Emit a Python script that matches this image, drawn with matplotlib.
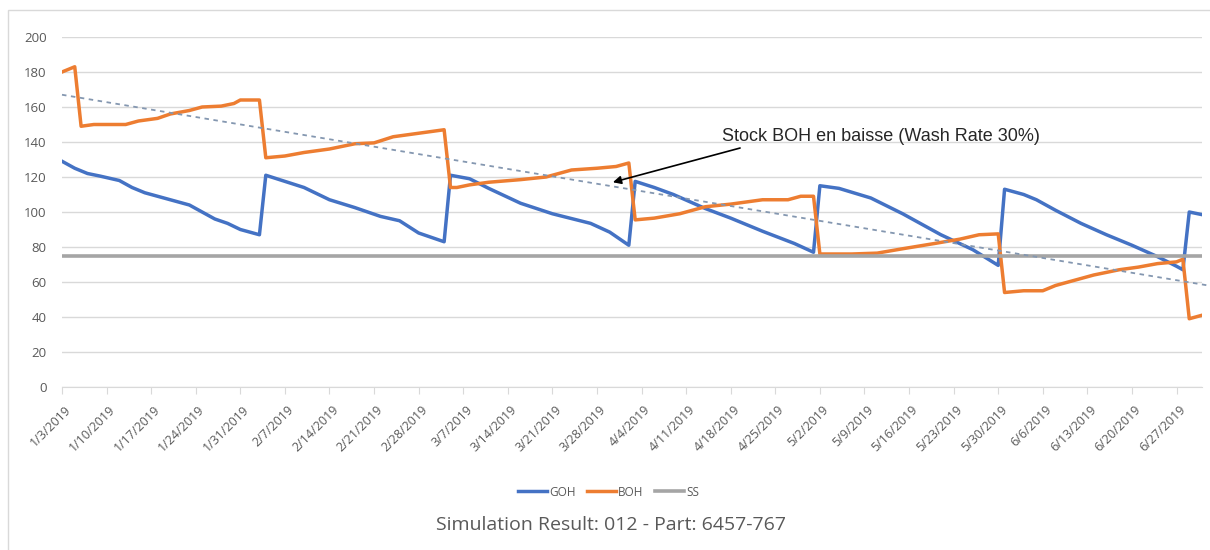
import matplotlib
matplotlib.use('Agg')
import matplotlib.pyplot as plt
from matplotlib.patches import Rectangle
from matplotlib.transforms import ScaledTranslation
import pandas as pd

# days counted from 1/3/2019
start_date = '2019-01-03'
last_day = 179

goh_day = [0, 2, 4, 6, 9, 11, 13, 15, 17, 20, 22, 24, 26, 28, 30, 31,
           32, 35, 38, 42, 46, 50, 53, 56, 58, 60,
           61, 64, 67, 72, 77, 83, 86, 89,
           90, 93, 96, 101, 105, 110, 115, 118,
           119, 122, 127, 132, 138, 143, 147,
           148, 151, 153, 156, 160, 164, 168, 172, 175, 176,
           177, 179]
goh_val = [129, 125, 122, 120.5, 118, 114, 111, 109, 107, 104, 100, 96, 93.5, 90, 88, 87,
           121, 117.5, 114, 107, 102.5, 97.5, 95, 88, 85.5, 83,
           121, 119, 113.5, 105, 99, 93.5, 88.5, 81,
           117.5, 114, 110, 102, 96.5, 89, 82, 77,
           115, 113.5, 108, 99, 87, 78.5, 69.5,
           113, 110, 107, 101, 93.5, 87, 81, 74.5, 69, 67,
           100, 98.5]

boh_day = [0, 2, 3, 5, 10, 12, 15, 17, 20, 22, 25, 27, 28, 31,
           32, 35, 38, 42, 46, 49, 52, 55, 58, 60,
           61, 62, 64, 67, 72, 76, 80, 84, 87, 89,
           90, 93, 97, 101, 105, 110, 114, 116, 118,
           119, 124, 128, 132, 137, 141, 144, 147,
           148, 151, 154, 156, 159, 162, 166, 169, 172, 175, 176,
           177, 179]
boh_val = [180, 183, 149, 150, 150, 152, 153.5, 156, 158, 160, 160.5, 162, 164, 164,
           131, 132, 134, 136, 139, 139.5, 143, 144.5, 146, 147,
           114, 114, 115.5, 117, 118.5, 120, 124, 125, 126, 128,
           95.5, 96.5, 99, 103, 104.5, 107, 107, 109, 109,
           76, 76, 76.5, 79, 82, 84.5, 87, 87.5,
           54, 55, 55, 58, 61, 64, 67, 68.5, 70.5, 71.5, 73,
           39, 41]

ss_val = 75
trend_start = 167
trend_end = 58

tick_days = list(range(0, last_day, 7))
tick_dates = pd.to_datetime(start_date) + pd.to_timedelta(tick_days, unit='D')
tick_labels = [str(d.month) + '/' + str(d.day) + '/' + str(d.year) for d in tick_dates]

grey_txt = '#595959'
grid_c = '#d9d9d9'

fig = plt.figure(figsize=(12.1, 5.5), dpi=100)

# outer chart frame (cut off at right/bottom like the screenshot)
fig.add_artist(Rectangle((8 / 1210, -0.2), 1.2, 1 - 10 / 550 + 0.2, transform=fig.transFigure,
                         fill=False, edgecolor=grid_c, lw=1, clip_on=False))

ax = fig.add_axes([62 / 1210, 1 - 387 / 550, (1202 - 62) / 1210, 350 / 550])

ax.plot(goh_day, goh_val, color='#4472C4', lw=2.5, label='GOH', solid_joinstyle='round')
ax.plot(boh_day, boh_val, color='#ED7D31', lw=2.5, label='BOH', solid_joinstyle='round')
ax.plot([0, last_day], [ss_val, ss_val], color='#A5A5A5', lw=2.6, label='SS')
ax.plot([0, last_day + 1], [trend_start, trend_end], color='#8497b0', lw=1.3,
        linestyle=(0, (2.5, 2.5)), clip_on=False)

ax.set_xlim(0, last_day)
ax.set_ylim(0, 200)
ax.set_yticks(range(0, 201, 20))
ax.grid(axis='y', color=grid_c, lw=1)
ax.set_axisbelow(True)
for s in ['top', 'right', 'left']:
    ax.spines[s].set_visible(False)
ax.spines['bottom'].set_color(grid_c)

ax.set_xticks(tick_days)
ax.set_xticklabels(tick_labels, rotation=45, ha='right', va='center', rotation_mode='anchor',
                   fontsize=9, color=grey_txt, family='Open Sans')
ax.tick_params(axis='x', direction='out', length=5, color=grid_c, pad=10)
ax.tick_params(axis='y', length=0, pad=11, labelsize=9.5, labelcolor=grey_txt)
for lab in ax.get_yticklabels():
    lab.set_family('Open Sans')
for lab in ax.get_xticklabels():
    lab.set_transform(lab.get_transform() + ScaledTranslation(0.07, 0, fig.dpi_scale_trans))

ax.annotate('Stock BOH en baisse (Wash Rate 30%)', xy=(86.5, 117), xytext=(103.6, 143),
            fontsize=13, family='Liberation Sans', color='#262626', va='center', ha='left',
            arrowprops=dict(arrowstyle='-|>', color='black', lw=1.2, mutation_scale=12,
                            shrinkA=0, shrinkB=0, relpos=(0.09, 0.0)))

leg = fig.legend(loc='center', bbox_to_anchor=(0.503, 1 - 492 / 550), ncol=3, frameon=False,
                 handlelength=2.4, handletextpad=0.2, columnspacing=1.0,
                 prop={'family': 'Open Sans', 'size': 8.5})
for t in leg.get_texts():
    t.set_color(grey_txt)

fig.text(0.505, 1 - 525 / 550, 'Simulation Result: 012 - Part: 6457-767', ha='center', va='center',
         fontsize=14, family='Open Sans', color=grey_txt)

plt.savefig('out.png', dpi=100)
plt.close()
